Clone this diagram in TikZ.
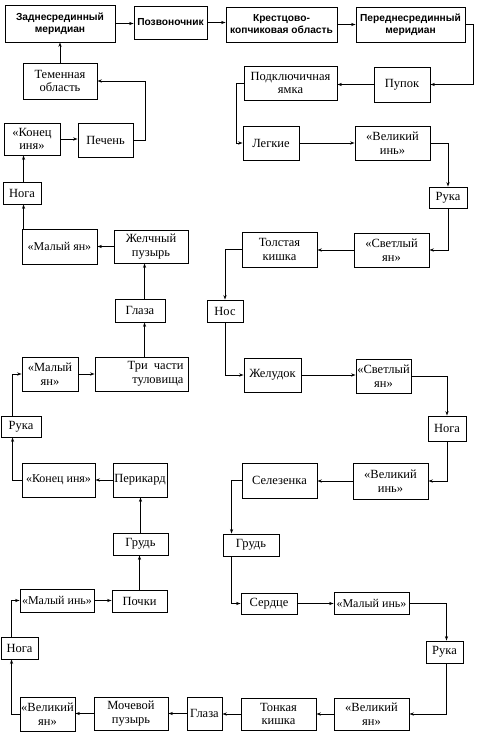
\documentclass[tikz,border=0pt]{standalone}
\usepackage{fontspec}
\setmainfont{Liberation Serif}
\newfontfamily\hdfont{Liberation Sans}
\usetikzlibrary{arrows.meta,calc}
\newcommand\mybox[7][]{%
  \pgfmathsetmacro\bw{#5-#3}\pgfmathsetmacro\bh{#6-#4}%
  \pgfmathsetmacro\cx{(#3+#5)/2}\pgfmathsetmacro\cy{(#4+#6)/2}%
  \node[box,#1,minimum width=\bw pt,minimum height=\bh pt] (#2) at (\cx,\cy) {#7};}
\begin{document}
\begin{tikzpicture}[x=1pt,y=-1pt,
  box/.style={draw,line width=0.9pt,inner sep=1pt,align=center,
    font=\fontsize{12.5}{13.5}\selectfont},
  sm/.style={font=\fontsize{12}{13}\selectfont},
  hd/.style={font=\hdfont\bfseries\fontsize{10.2}{12}\selectfont},
  arr/.style={line width=0.8pt,-{Stealth[length=4.5pt,width=3.2pt]}}]
\useasboundingbox (0,0) rectangle (482,738);
% top row
\mybox[hd]{zm}{5}{5}{115}{42}{Заднесрединный\\меридиан}
\mybox[hd]{pz}{134}{6}{207}{39}{Позвоночник}
\mybox[hd]{kr}{226}{7}{337}{42}{Крестцово-\\копчиковая область}
\mybox[hd]{pm}{356}{7}{465}{42}{Переднесрединный\\меридиан}
% right chain
\mybox{pu}{374}{67}{430}{102}{Пупок}
\mybox{pya}{244}{66}{337}{100}{Подключичная\\ямка}
\mybox{leg}{243}{126}{299}{160}{Легкие}
\mybox{vin1}{355}{126}{430}{160}{«Великий\\инь»}
\mybox{ruk1}{429}{187}{467}{208}{Рука}
\mybox{sya1}{354}{233}{429}{267}{«Светлый\\ян»}
\mybox{tk}{242}{232}{317}{267}{Толстая\\кишка}
\mybox{nos}{207}{300}{243}{322}{Нос}
\mybox{zhel}{244}{358}{301}{392}{Желудок}
\mybox{sya2}{356}{359}{411}{393}{«Светлый\\ян»}
\mybox{nog1}{428}{416}{466}{441}{Нога}
\mybox{vin2}{353}{463}{428}{499}{«Великий\\инь»}
\mybox{sel}{242}{463}{317}{498}{Селезенка}
\mybox{gr1}{223}{534}{279}{556}{Грудь}
\mybox{ser}{241}{593}{297}{614}{Сердце}
\mybox[sm]{min1}{334}{592}{409}{614}{«Малый инь»}
\mybox{ruk2}{426}{641}{463}{663}{Рука}
\mybox{vya1}{334}{698}{409}{730}{«Великий\\ян»}
\mybox{ton}{241}{698}{316}{730}{Тонкая\\кишка}
\mybox{gl2}{187}{697}{222}{730}{Глаза}
\mybox{moch}{94}{697}{168}{730}{Мочевой\\пузырь}
\mybox{vya2}{20}{697}{75}{731}{«Великий\\ян»}
% left chain
\mybox{nog2}{1}{637}{38}{659}{Нога}
\mybox[sm]{min2}{20}{589}{94}{612}{«Малый инь»}
\mybox{poch}{112}{590}{167}{612}{Почки}
\mybox{gr2}{113}{533}{168}{555}{Грудь}
\mybox{per}{113}{463}{167}{497}{Перикард}
\mybox[sm]{kin2}{22}{463}{95}{497}{«Конец иня»}
\mybox{ruk3}{1}{416}{41}{437}{Рука}
\mybox{mya2}{22}{357}{78}{391}{«Малый\\ян»}
\mybox[text width=84pt,align=right,inner xsep=3pt]{tri}{95}{357}{188}{391}{Три\enspace части\\туловища}
\mybox{gl1}{115}{299}{165}{322}{Глаза}
\mybox{zhp}{114}{230}{188}{263}{Желчный\\пузырь}
\mybox[sm]{mya1}{22}{229}{97}{264}{«Малый ян»}
\mybox{nog3}{3}{182}{41}{204}{Нога}
\mybox{kin1}{4}{123}{60}{155}{«Конец\\иня»}
\mybox{pech}{78}{123}{133}{157}{Печень}
\mybox{tem}{23}{63}{97}{99}{Теменная\\область}
% helper coordinates
\coordinate (g1b) at ([xshift=30pt]gl1.south west);
\coordinate (g1t) at ([xshift=30pt]gl1.north west);
\coordinate (m1t) at ([xshift=2pt]mya1.north west);
\coordinate (n3b) at ([xshift=2pt]mya1.north west |- nog3.south);
% connectors
\draw[arr] (zm.east) -- (zm.east -| pz.west);
\draw[arr] (pz.east) -- (pz.east -| kr.west);
\draw[arr] (kr.east) -- (kr.east -| pm.west);
\draw[arr] (pm.east) -- ++(8,0) |- (pu.east);
\draw[arr] (pu.west) -- (pu.west -| pya.east);
\draw[arr] (pya.west) -- ++(-7,0) |- (leg.west);
\draw[arr] (leg.east) -- (leg.east -| vin1.west);
\draw[arr] (vin1.east) -| (ruk1.north);
\draw[arr] (ruk1.south) |- (sya1.east);
\draw[arr] (sya1.west) -- (sya1.west -| tk.east);
\draw[arr] (tk.west) -| (nos.north);
\draw[arr] (nos.south) |- (zhel.west);
\draw[arr] (zhel.east) -- (zhel.east -| sya2.west);
\draw[arr] (sya2.east) -| (nog1.north);
\draw[arr] (nog1.south) |- (vin2.east);
\draw[arr] (vin2.west) -- (vin2.west -| sel.east);
\draw[arr] (sel.west) -| ([xshift=9pt]gr1.north west);
\draw[arr] ([xshift=9pt]gr1.south west) |- (ser.west);
\draw[arr] (ser.east) -- (ser.east -| min1.west);
\draw[arr] (min1.east) -| ([xshift=2pt]ruk2.north);
\draw[arr] ([xshift=2pt]ruk2.south) |- (vya1.east);
\draw[arr] (vya1.west) -- (vya1.west -| ton.east);
\draw[arr] (ton.west) -- (ton.west -| gl2.east);
\draw[arr] (gl2.west) -- (gl2.west -| moch.east);
\draw[arr] (moch.west) -- (moch.west -| vya2.east);
\draw[arr] (vya2.west) -| ([xshift=11pt]nog2.south west);
\draw[arr] ([xshift=11pt]nog2.north west) |- (min2.west);
\draw[arr] (min2.east) -- (min2.east -| poch.west);
\draw[arr] (poch.north) -- (poch.north |- gr2.south);
\draw[arr] (gr2.north) -- (gr2.north |- per.south);
\draw[arr] (per.west) -- (per.west -| kin2.east);
\draw[arr] (kin2.west) -| ([xshift=12pt]ruk3.south west);
\draw[arr] ([xshift=12pt]ruk3.north west) |- (mya2.west);
\draw[arr] (mya2.east) -- (mya2.east -| tri.west);
\draw[arr] (g1b |- tri.north) -- (g1b);
\draw[arr] (g1t) -- (g1t |- zhp.south);
\draw[arr] (zhp.west) -- (zhp.west -| mya1.east);
\draw[arr] (m1t) -- (n3b);
\draw[arr] (m1t |- nog3.north) -- (m1t |- kin1.south);
\draw[arr] (kin1.east) -- (kin1.east -| pech.west);
\draw[arr] (pech.east) -- ++(12,0) |- (tem.east);
\draw[arr] (tem.north) -- (tem.north |- zm.south);
\end{tikzpicture}
\end{document}
